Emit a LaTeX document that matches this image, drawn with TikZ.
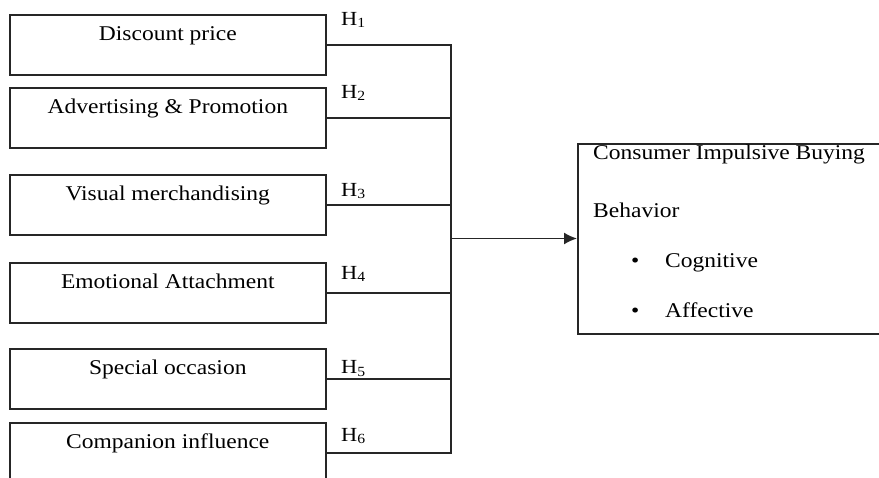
\documentclass[tikz,border=0pt]{standalone}
\usepackage{fontspec}
\setmainfont{Liberation Serif}[FakeStretch=1.12]
\usetikzlibrary{arrows.meta,positioning}

\begin{document}
\begin{tikzpicture}[x=1pt,y=-1pt,
  every node/.style={font=\fontsize{21}{25}\selectfont},
  factor/.style={draw=black!85,line width=1.6pt,anchor=north west,
    minimum width=316pt,minimum height=60pt,inner ysep=6pt,
    text height=20pt,text depth=28pt},
  hyp/.style={anchor=base west,inner sep=0pt,font=\fontsize{20}{24}\selectfont},
  item/.style={anchor=base west,inner sep=0pt},
  link/.style={draw=black!85,line width=1.6pt}]
\clip (0,0) rectangle (879,478);
\foreach \nm/\txt/\top in {dp/Discount price/14, adv/Advertising \& Promotion/87,
  vis/Visual merchandising/174, emo/Emotional Attachment/262,
  spc/Special occasion/348, cmp/Companion influence/422}
  \node[factor] (\nm) at (9,\top) {\txt};
\foreach \i/\base in {1/26, 2/99, 3/197, 4/280, 5/374, 6/442}
  \node[hyp] (h\i) at (341,\base) {H\raisebox{-2pt}{\fontsize{14}{14}\selectfont\i}};
\node[draw=black!85,line width=1.6pt,anchor=north west,
  minimum width=340pt,minimum height=190pt] (outcome) at (577,143) {};
\node[item] (cib) at (593,160) {Consumer Impulsive Buying};
\node[item] (beh) at (593,218) {Behavior};
\node[item] (cog) at (631,268) {\makebox[34pt][l]{\textbullet}Cognitive};
\node[item] (aff) at (631,318) {\makebox[34pt][l]{\textbullet}Affective};
\coordinate (hub) at (451,238.5);
\foreach \nm in {dp,adv,vis,emo,spc,cmp}
  \draw[link] (\nm.east) -| (hub);
\draw[link,-{Latex[length=13pt,width=12pt]}] (hub) -- (hub -| outcome.west);
\end{tikzpicture}
\end{document}
